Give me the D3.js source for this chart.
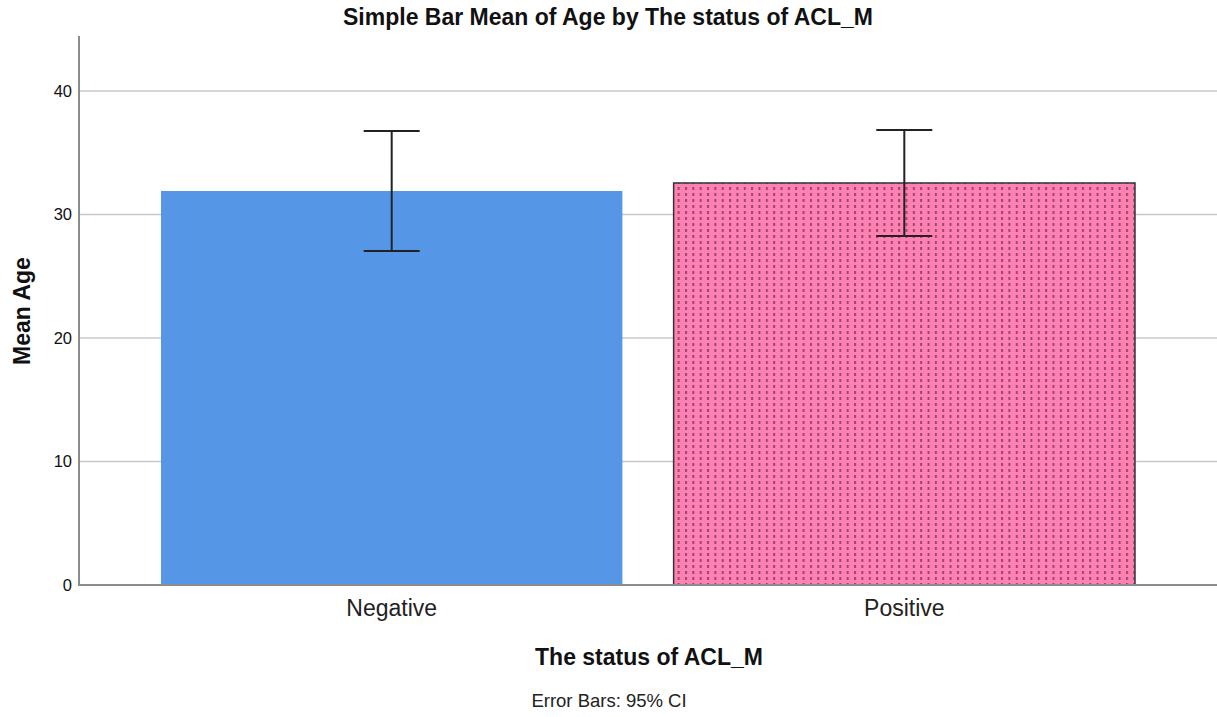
<!DOCTYPE html>
<html><head><meta charset="utf-8">
<script src="https://cdn.jsdelivr.net/npm/d3@7"></script>
<style>body{margin:0;background:#fff;font-family:Arial,"Liberation Sans",sans-serif;}</style>
</head><body><svg id="c" width="1217" height="717"></svg>
<script>
const categories = ["Negative", "Positive"];
const means = [31.9, 32.55];
const ciLow = [27.04, 28.26];
const ciHigh = [36.76, 36.84];
const yTicks = [0, 10, 20, 30, 40];

(function(){
const svg = d3.select("#c");
const FF = "Arial,'Liberation Sans',sans-serif";
const mLeft = 79, mRight = 1217, mTop = 36, mBottom = 585;

const y = d3.scaleLinear().domain([0, 44.45]).range([mBottom, mTop]);
const x = d3.scaleBand().domain(categories).range([mLeft, mRight]).paddingInner(0.1).paddingOuter(0.16);

const defs = svg.append("defs");
const pat = defs.append("pattern").attr("id", "dots").attr("patternUnits", "userSpaceOnUse")
  .attr("width", 7.35).attr("height", 6).attr("x", x("Positive") + 4);
pat.append("rect").attr("width", 7.35).attr("height", 6).attr("fill", "#ff80b2");
pat.append("rect").attr("x", 0).attr("y", 1).attr("width", 2).attr("height", 3).attr("fill", "#86405f").attr("opacity", 0.85);

// gridlines
svg.append("g").selectAll("line").data(yTicks.filter(d => d > 0)).join("line")
  .attr("x1", mLeft).attr("x2", mRight).attr("y1", d => y(d)).attr("y2", d => y(d))
  .attr("stroke", "#c8c8c8").attr("stroke-width", 1.5);

// bars
const fills = ["#5596e6", "url(#dots)"];
svg.append("g").selectAll("rect").data(categories).join("rect")
  .attr("x", d => x(d)).attr("width", x.bandwidth())
  .attr("y", (d, i) => y(means[i])).attr("height", (d, i) => y(0) - y(means[i]))
  .attr("fill", (d, i) => fills[i])
  .attr("stroke", (d, i) => i === 1 ? "#333" : "none").attr("stroke-width", 1.5);

// axes
const yAxis = d3.axisLeft(y).tickValues(yTicks).tickSize(0).tickPadding(7);
const gy = svg.append("g").attr("transform", `translate(${mLeft},0)`).call(yAxis);
gy.select(".domain").remove();
gy.selectAll("text").attr("font-size", 16.5).attr("fill", "#111").attr("font-family", FF);
svg.append("line").attr("x1", mLeft).attr("x2", mLeft).attr("y1", mTop).attr("y2", mBottom)
  .attr("stroke", "#8c8c8c").attr("stroke-width", 2);
svg.append("line").attr("x1", mLeft - 1).attr("x2", mRight).attr("y1", mBottom).attr("y2", mBottom)
  .attr("stroke", "#8c8c8c").attr("stroke-width", 2);

const xAxis = d3.axisBottom(x).tickSize(0).tickPadding(0);
const gx = svg.append("g").attr("transform", `translate(0,${mBottom})`).call(xAxis);
gx.select(".domain").remove();
gx.selectAll("text").attr("font-size", 23).attr("fill", "#222").attr("font-family", FF)
  .attr("dy", null).attr("y", 31);

// error bars
const eb = svg.append("g").attr("stroke", "#222").attr("stroke-width", 2);
categories.forEach((c, i) => {
  const cx = x(c) + x.bandwidth() / 2;
  eb.append("line").attr("x1", cx).attr("x2", cx).attr("y1", y(ciHigh[i])).attr("y2", y(ciLow[i]));
  eb.append("line").attr("x1", cx - 28).attr("x2", cx + 28).attr("y1", y(ciHigh[i])).attr("y2", y(ciHigh[i]));
  eb.append("line").attr("x1", cx - 28).attr("x2", cx + 28).attr("y1", y(ciLow[i])).attr("y2", y(ciLow[i]));
});

// titles
svg.append("text").attr("x", 608).attr("y", 25).attr("text-anchor", "middle")
  .attr("font-size", 23).attr("font-weight", "bold").attr("fill", "#111")
  .text("Simple Bar Mean of Age by The status of ACL_M");
svg.append("text").attr("transform", `translate(30,311) rotate(-90)`).attr("text-anchor", "middle")
  .attr("font-size", 23).attr("font-weight", "bold").attr("fill", "#111").text("Mean Age");
svg.append("text").attr("x", 649).attr("y", 665).attr("text-anchor", "middle")
  .attr("font-size", 23).attr("font-weight", "bold").attr("fill", "#111").text("The status of ACL_M");
svg.append("text").attr("x", 609).attr("y", 707).attr("text-anchor", "middle")
  .attr("font-size", 18.5).attr("fill", "#222").text("Error Bars: 95% CI");
})();
</script></body></html>
